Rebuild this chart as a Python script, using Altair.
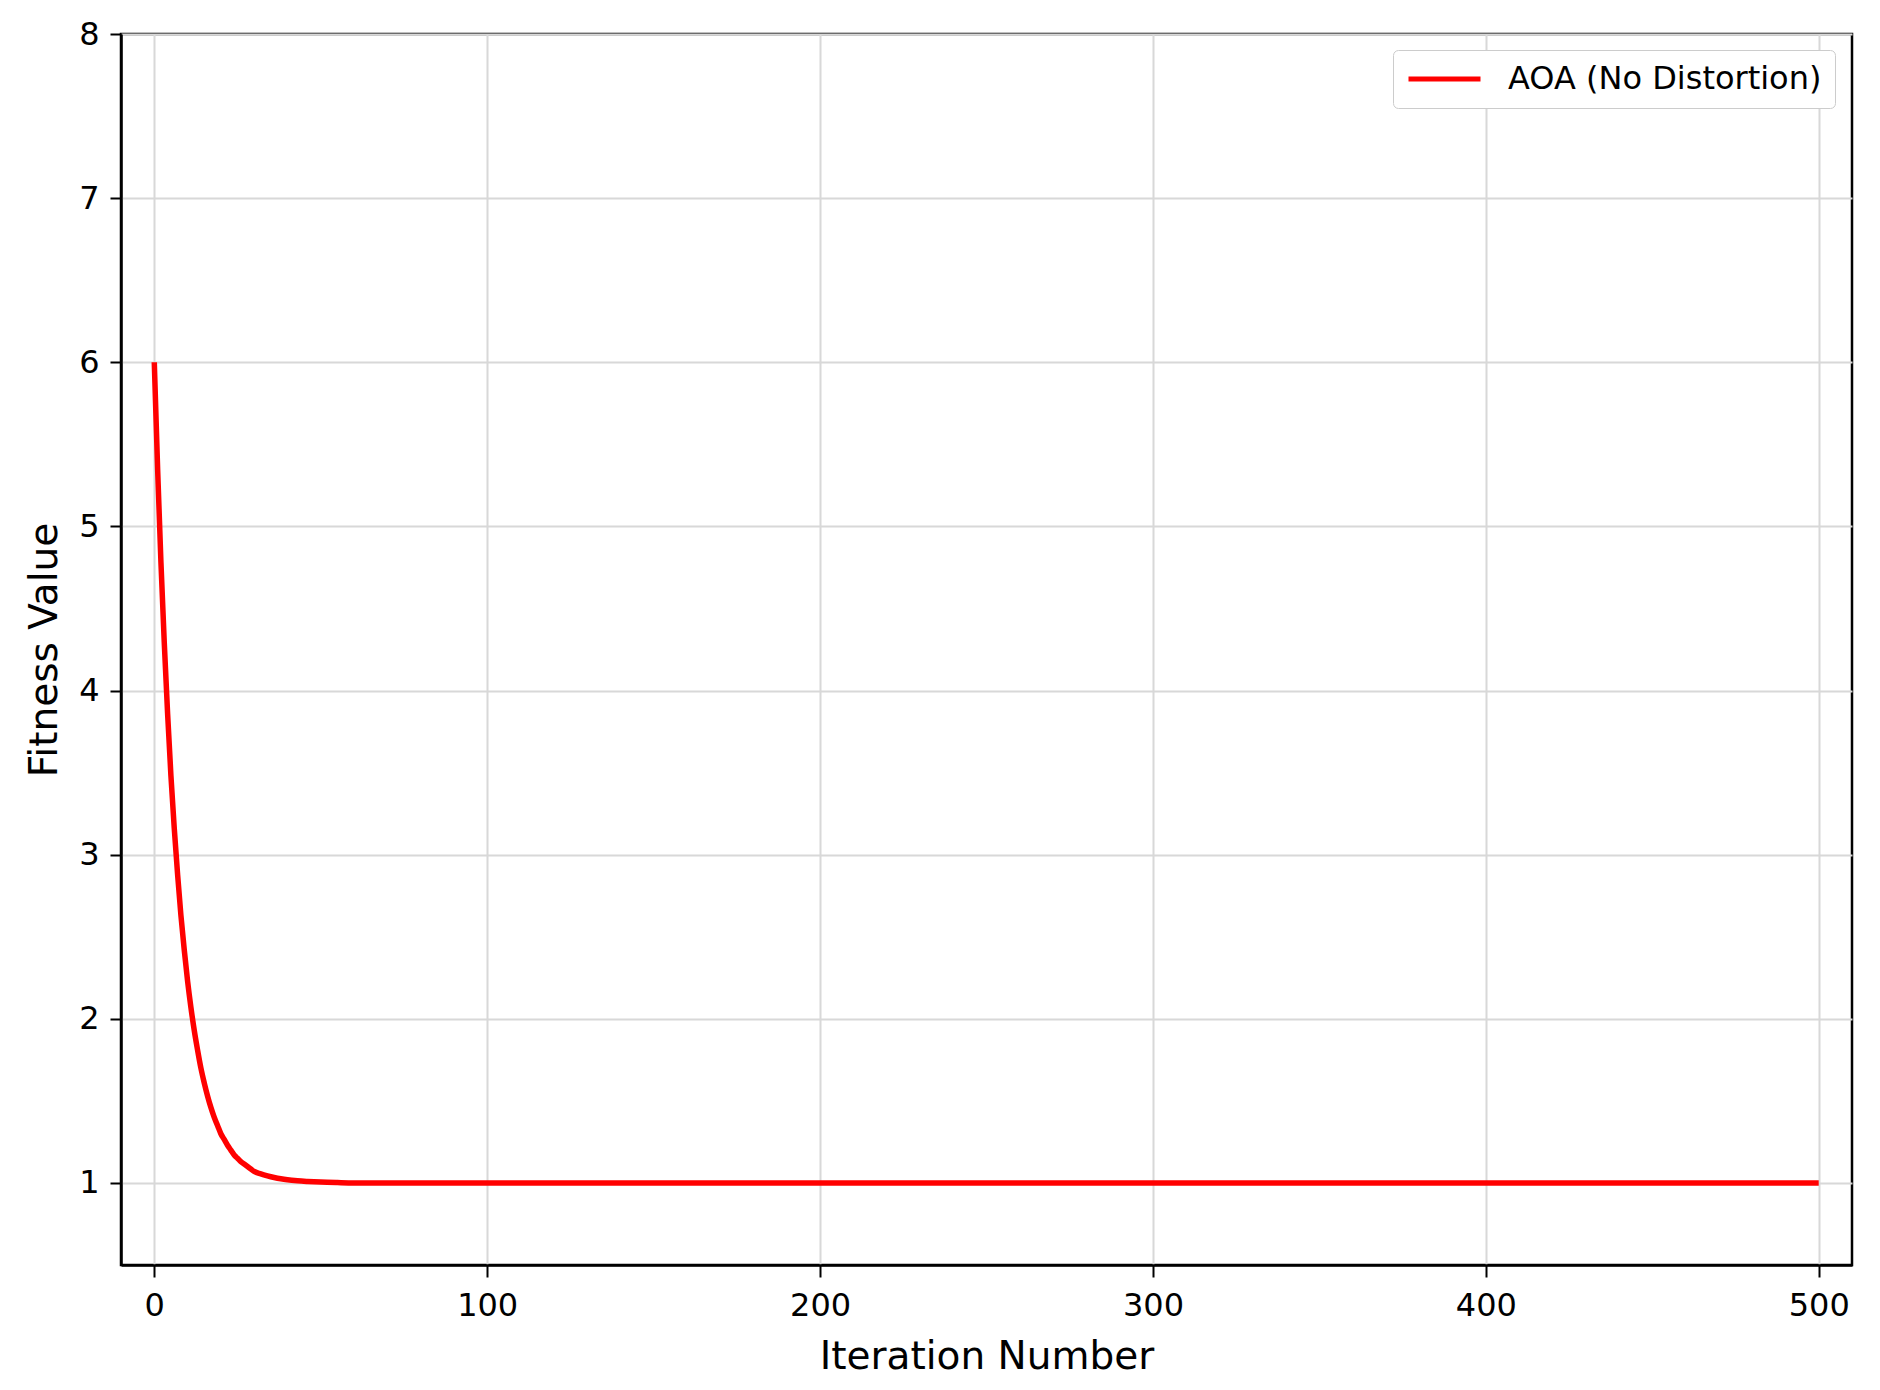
import altair as alt
import pandas as pd

# Data
iterations = [0, 1, 2, 3, 4, 5, 6, 7, 8, 9, 10, 11, 12, 13, 14, 15, 16, 17, 18, 19,
              20, 21, 22, 23, 24, 25, 26, 27, 28, 29, 30, 32, 34, 36, 38, 40, 43,
              46, 50, 55, 60, 100, 200, 300, 400, 500]
fitness = [6.00, 5.35, 4.78, 4.29, 3.86, 3.48, 3.16, 2.88, 2.63, 2.42, 2.23, 2.07,
           1.93, 1.81, 1.70, 1.61, 1.53, 1.46, 1.40, 1.35, 1.30, 1.265, 1.23, 1.20,
           1.17, 1.15, 1.13, 1.115, 1.10, 1.085, 1.07, 1.055, 1.043, 1.033, 1.025,
           1.019, 1.013, 1.009, 1.005, 1.002, 1.00, 1.00, 1.00, 1.00, 1.00, 1.00]
series_name = "AOA (No Distortion)"
x_ticks = [0, 100, 200, 300, 400, 500]
y_ticks = [1, 2, 3, 4, 5, 6, 7, 8]

df = pd.DataFrame({"iter": iterations, "fit": fitness, "series": [series_name] * len(iterations)})

FONT = "DejaVu Sans"

chart = alt.Chart(df).mark_line(strokeWidth=5.5, clip=True, interpolate="monotone").encode(
    x=alt.X("iter:Q",
            scale=alt.Scale(domain=[-10, 510], nice=False, zero=False),
            axis=alt.Axis(title="Iteration Number", values=x_ticks, format="d",
                          labelFontSize=32, titleFontSize=39, tickSize=12,
                          labelPadding=13, titlePadding=16)),
    y=alt.Y("fit:Q",
            scale=alt.Scale(domain=[0.5, 8], nice=False, zero=False),
            axis=alt.Axis(title="Fitness Value", values=y_ticks, format="d",
                          labelFontSize=32, titleFontSize=39, tickSize=11,
                          labelPadding=11, titlePadding=14)),
    color=alt.Color("series:N",
                    scale=alt.Scale(domain=[series_name], range=["#ff0000"]),
                    legend=alt.Legend(title=None, orient="none", legendX=1272, legendY=16,
                                      symbolType="stroke", symbolSize=5184,
                                      symbolStrokeWidth=5, labelFontSize=32,
                                      labelFont=FONT, labelColor="#000000",
                                      labelLimit=0, clipHeight=32,
                                      labelOffset=25, padding=13,
                                      strokeColor="#cccccc", fillColor="#ffffff",
                                      cornerRadius=5)),
).properties(
    width=1731,
    height=1231,
    autosize=alt.AutoSizeParams(type="none"),
    padding={"left": 113, "top": 26, "right": 20, "bottom": 122},
).configure_view(
    stroke="#000000", strokeWidth=2.5
).configure_axis(
    labelFont=FONT, titleFont=FONT, labelColor="#000000", titleColor="#000000",
    titleFontWeight="normal", domainColor="#000000", domainWidth=2.5,
    tickColor="#000000", tickWidth=2, gridColor="#d8d8d8", gridWidth=2,
    grid=True
)

chart.save("out.html", embed_options={"renderer": "svg", "actions": False})
